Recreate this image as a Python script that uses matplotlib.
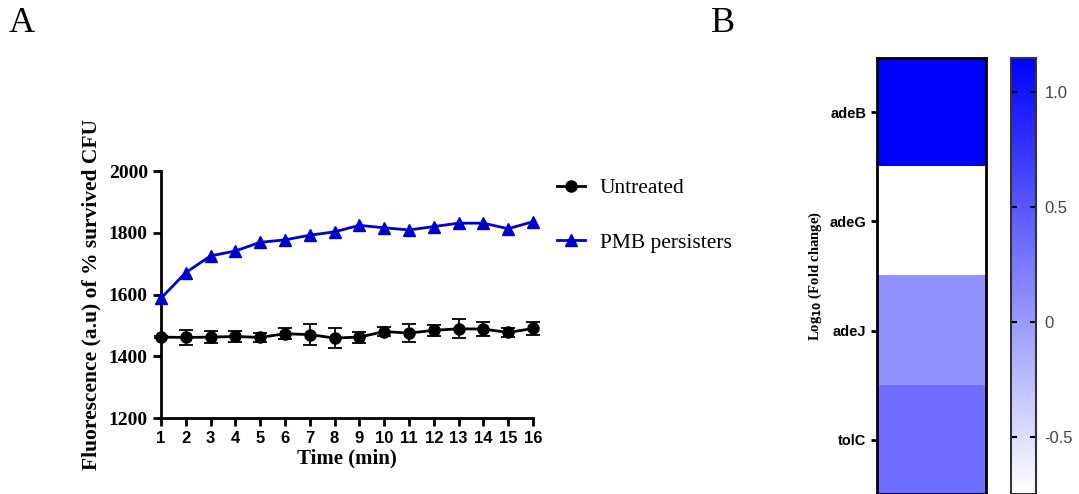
import numpy as np
import matplotlib
matplotlib.use("Agg")
import matplotlib.pyplot as plt
from matplotlib.colors import LinearSegmentedColormap
from matplotlib.lines import Line2D

# panel A data
time_min = list(range(1, 17))
untreated = [1462, 1461, 1462, 1464, 1461, 1473, 1470, 1459, 1462, 1480, 1475, 1484, 1489, 1488, 1477, 1490]
untreated_err = [3, 24, 20, 17, 15, 18, 33, 31, 18, 15, 28, 18, 31, 23, 15, 22]
pmb = [1588, 1671, 1725, 1741, 1769, 1777, 1792, 1803, 1824, 1816, 1809, 1820, 1831, 1831, 1813, 1836]

# panel B data
genes = ["adeB", "adeG", "adeJ", "tolC"]
log_fc = [1.15, -0.75, 0.07, 0.34]

W, H = 1079, 494
fig = plt.figure(figsize=(W / 100, H / 100), dpi=100)

def box(l, t, r, b):
    return [l / W, 1 - b / H, (r - l) / W, (b - t) / H]

serif = "Liberation Serif"
sans = "Liberation Sans"

# ---- A ----
ax = fig.add_axes(box(161, 171, 533, 418))
eb = ax.errorbar(time_min, untreated, yerr=untreated_err, color="black", marker="o", ms=8,
                 lw=2, capsize=5, elinewidth=1.3, capthick=1.3, zorder=3)
for art in eb.lines[0:1] + tuple(eb.lines[1]) + tuple(eb.lines[2]):
    art.set_clip_on(False)
ax.plot(time_min, pmb, color="#0000cc", marker="^", ms=8, lw=2, zorder=3, clip_on=False)
ax.set_xlim(1, 16)
ax.set_ylim(1200, 2000)
ax.set_xticks(time_min)
ax.set_yticks([1200, 1400, 1600, 1800, 2000])
ax.spines["top"].set_visible(False)
ax.spines["right"].set_visible(False)
for s in ["left", "bottom"]:
    ax.spines[s].set_linewidth(2)
ax.tick_params(width=2, length=6)
for t in ax.get_xticklabels():
    t.set_fontfamily(sans); t.set_fontweight("bold"); t.set_fontsize(12)
for t in ax.get_yticklabels():
    t.set_fontfamily(serif); t.set_fontweight("bold"); t.set_fontsize(14)
ax.set_xlabel("Time (min)", fontfamily=serif, fontweight="bold", fontsize=15, labelpad=2)
ax.set_ylabel("Fluorescence (a.u) of % survived CFU", fontfamily=serif, fontweight="bold",
              fontsize=15.5, labelpad=5)

handles = [Line2D([], [], color="black", marker="o", ms=8, lw=2),
           Line2D([], [], color="#0000cc", marker="^", ms=8, lw=2)]
fig.legend(handles, ["Untreated", "PMB persisters"], loc="upper left",
           bbox_to_anchor=(557 / W, 1 - 178 / H), frameon=False,
           prop={"family": serif, "size": 15.5}, handlelength=1.3, handletextpad=0.7,
           labelspacing=1.6, borderpad=0, borderaxespad=0)

fig.text(9 / W, 1 - 23 / H, "A", fontfamily=serif, fontsize=26, va="center")
fig.text(711 / W, 1 - 23 / H, "B", fontfamily=serif, fontsize=26, va="center")

# ---- B ----
cmap = LinearSegmentedColormap.from_list("wb", ["white", "#0000ff"])
hx = fig.add_axes(box(877, 58, 986, 494))
im = hx.imshow(np.array(log_fc).reshape(-1, 1), cmap=cmap, vmin=-0.75, vmax=1.15, aspect="auto")
hx.set_xticks([])
hx.set_yticks(range(len(genes)))
hx.set_yticklabels(genes, fontfamily=sans, fontweight="bold", fontsize=10.5)
hx.tick_params(axis="y", width=2, length=4)
for s in hx.spines.values():
    s.set_linewidth(2)
hx.set_ylabel(r"Log$_{\mathbf{10}}$ (Fold change)", fontfamily=serif, fontweight="bold",
              fontsize=10.5, labelpad=4)

cx = fig.add_axes(box(1011, 58, 1036, 494))
cb = fig.colorbar(im, cax=cx)
cb.set_ticks([-0.5, 0, 0.5, 1.0])
cb.set_ticklabels(["-0.5", "0", "0.5", "1.0"])
cx.yaxis.set_ticks_position("both")
cx.tick_params(direction="in", length=4, width=1.5, labelsize=12, labelcolor="#444444", pad=6)
for t in cx.get_yticklabels():
    t.set_fontfamily(sans)
cb.outline.set_linewidth(1.5)
cb.outline.set_edgecolor("#333333")

fig.savefig("out.png", dpi=100)
